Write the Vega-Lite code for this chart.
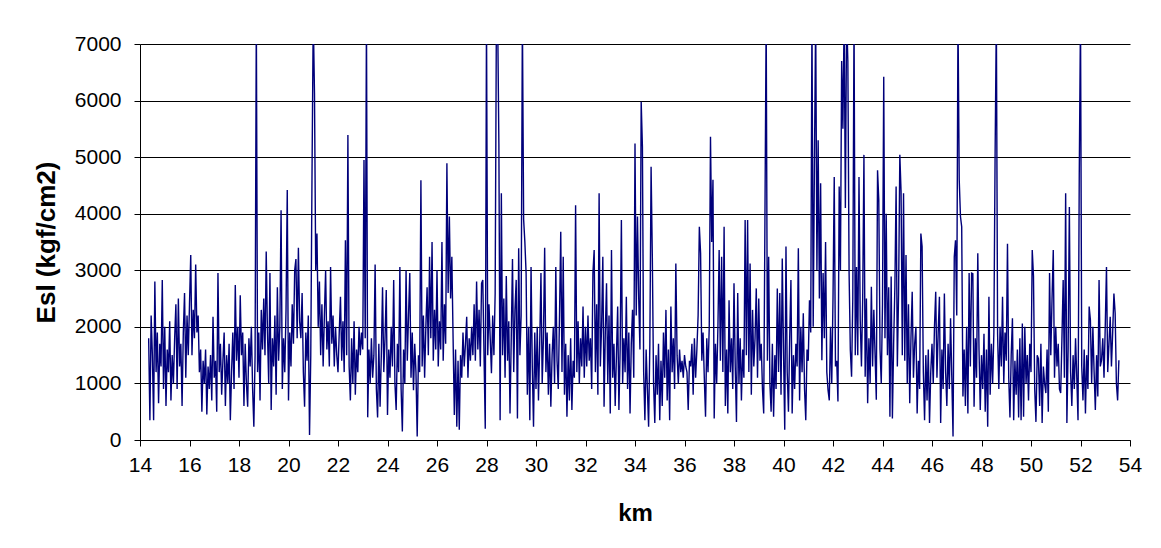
{
"$schema": "https://vega.github.io/schema/vega-lite/v6.json",
"width": 990,
"height": 396,
"autosize": "none",
"padding": {"left": 140, "top": 44, "right": 31, "bottom": 108},
"background": "white",
"config": {"view": {"stroke": null}, "font": "Liberation Sans"},
"data": {"values": [
{"km":14.35,"esl":1800},{"km":14.40,"esl":350},{"km":14.45,"esl":2200},{"km":14.50,"esl":1500},{"km":14.55,"esl":350},{"km":14.60,"esl":2800},{"km":14.65,"esl":1200},{"km":14.70,"esl":1900},{"km":14.75,"esl":650},{"km":14.80,"esl":1700},{"km":14.85,"esl":1300},{"km":14.90,"esl":2830},{"km":14.95,"esl":900},
{"km":15.00,"esl":2000},{"km":15.05,"esl":600},{"km":15.10,"esl":1600},{"km":15.15,"esl":1200},{"km":15.20,"esl":2100},{"km":15.25,"esl":700},{"km":15.30,"esl":1500},{"km":15.35,"esl":1000},{"km":15.40,"esl":1800},{"km":15.45,"esl":2400},{"km":15.50,"esl":900},{"km":15.55,"esl":2500},{"km":15.60,"esl":1300},{"km":15.65,"esl":1700},{"km":15.70,"esl":600},{"km":15.75,"esl":1900},{"km":15.80,"esl":2600},{"km":15.85,"esl":1100},{"km":15.90,"esl":2200},{"km":15.95,"esl":1500},
{"km":16.00,"esl":2400},{"km":16.05,"esl":3270},{"km":16.10,"esl":1500},{"km":16.15,"esl":2300},{"km":16.20,"esl":1800},{"km":16.25,"esl":3100},{"km":16.30,"esl":1900},{"km":16.35,"esl":2200},{"km":16.40,"esl":1200},{"km":16.45,"esl":1600},{"km":16.50,"esl":500},{"km":16.55,"esl":1400},{"km":16.60,"esl":1000},{"km":16.65,"esl":1600},{"km":16.70,"esl":450},{"km":16.75,"esl":1300},{"km":16.80,"esl":900},{"km":16.85,"esl":1500},{"km":16.90,"esl":700},{"km":16.95,"esl":2180},
{"km":17.00,"esl":1100},{"km":17.05,"esl":1400},{"km":17.10,"esl":500},{"km":17.15,"esl":2950},{"km":17.20,"esl":1200},{"km":17.25,"esl":1700},{"km":17.30,"esl":800},{"km":17.35,"esl":1400},{"km":17.40,"esl":1900},{"km":17.45,"esl":600},{"km":17.50,"esl":1500},{"km":17.55,"esl":1000},{"km":17.60,"esl":1700},{"km":17.65,"esl":350},{"km":17.70,"esl":1200},{"km":17.75,"esl":1900},{"km":17.80,"esl":900},{"km":17.85,"esl":2740},{"km":17.90,"esl":1400},{"km":17.95,"esl":2000},
{"km":18.00,"esl":1100},{"km":18.05,"esl":2560},{"km":18.10,"esl":1500},{"km":18.15,"esl":1900},{"km":18.20,"esl":600},{"km":18.25,"esl":1700},{"km":18.30,"esl":1000},{"km":18.35,"esl":590},{"km":18.40,"esl":1800},{"km":18.45,"esl":1300},{"km":18.50,"esl":2000},{"km":18.55,"esl":900},{"km":18.60,"esl":235},{"km":18.65,"esl":1500},{"km":18.70,"esl":7500},{"km":18.75,"esl":1200},{"km":18.80,"esl":1900},{"km":18.85,"esl":700},{"km":18.90,"esl":2300},{"km":18.95,"esl":1600},
{"km":19.00,"esl":2500},{"km":19.05,"esl":1500},{"km":19.10,"esl":3330},{"km":19.15,"esl":1900},{"km":19.20,"esl":1000},{"km":19.25,"esl":2950},{"km":19.30,"esl":530},{"km":19.35,"esl":1800},{"km":19.40,"esl":1300},{"km":19.45,"esl":2200},{"km":19.50,"esl":800},{"km":19.55,"esl":2700},{"km":19.60,"esl":1400},{"km":19.65,"esl":2000},{"km":19.70,"esl":4060},{"km":19.75,"esl":900},{"km":19.80,"esl":1800},{"km":19.85,"esl":1200},{"km":19.90,"esl":2300},{"km":19.95,"esl":4420},
{"km":20.00,"esl":700},{"km":20.05,"esl":1900},{"km":20.10,"esl":1300},{"km":20.15,"esl":2400},{"km":20.20,"esl":1700},{"km":20.25,"esl":3000},{"km":20.30,"esl":3200},{"km":20.35,"esl":1800},{"km":20.40,"esl":3400},{"km":20.45,"esl":2100},{"km":20.50,"esl":1800},{"km":20.55,"esl":2600},{"km":20.60,"esl":1200},{"km":20.65,"esl":590},{"km":20.70,"esl":1900},{"km":20.75,"esl":1400},{"km":20.80,"esl":2200},{"km":20.85,"esl":90},{"km":20.90,"esl":1500},{"km":20.95,"esl":4700},
{"km":21.00,"esl":7500},{"km":21.05,"esl":6130},{"km":21.10,"esl":3000},{"km":21.15,"esl":3650},{"km":21.20,"esl":2000},{"km":21.25,"esl":2800},{"km":21.30,"esl":1500},{"km":21.35,"esl":2400},{"km":21.40,"esl":1300},{"km":21.45,"esl":2200},{"km":21.50,"esl":3000},{"km":21.55,"esl":1600},{"km":21.60,"esl":2100},{"km":21.65,"esl":1300},{"km":21.70,"esl":3060},{"km":21.75,"esl":1700},{"km":21.80,"esl":2200},{"km":21.85,"esl":1300},{"km":21.90,"esl":2000},{"km":21.95,"esl":1500},
{"km":22.00,"esl":1200},{"km":22.05,"esl":1900},{"km":22.10,"esl":2530},{"km":22.15,"esl":1400},{"km":22.20,"esl":2100},{"km":22.25,"esl":1200},{"km":22.30,"esl":3530},{"km":22.35,"esl":1500},{"km":22.40,"esl":5390},{"km":22.45,"esl":1300},{"km":22.50,"esl":700},{"km":22.55,"esl":1800},{"km":22.60,"esl":1000},{"km":22.65,"esl":2100},{"km":22.70,"esl":800},{"km":22.75,"esl":1600},{"km":22.80,"esl":1200},{"km":22.85,"esl":2000},{"km":22.90,"esl":1500},{"km":22.95,"esl":1900},
{"km":23.00,"esl":1600},{"km":23.05,"esl":4950},{"km":23.10,"esl":1800},{"km":23.15,"esl":7500},{"km":23.20,"esl":400},{"km":23.25,"esl":1600},{"km":23.30,"esl":1000},{"km":23.35,"esl":1800},{"km":23.40,"esl":1100},{"km":23.45,"esl":1500},{"km":23.50,"esl":3100},{"km":23.55,"esl":900},{"km":23.60,"esl":400},{"km":23.65,"esl":1700},{"km":23.70,"esl":590},{"km":23.75,"esl":1500},{"km":23.80,"esl":2700},{"km":23.85,"esl":1200},{"km":23.90,"esl":1800},{"km":23.95,"esl":2650},
{"km":24.00,"esl":440},{"km":24.05,"esl":1600},{"km":24.10,"esl":1100},{"km":24.15,"esl":2000},{"km":24.20,"esl":1300},{"km":24.25,"esl":2830},{"km":24.30,"esl":1000},{"km":24.35,"esl":530},{"km":24.40,"esl":1700},{"km":24.45,"esl":1200},{"km":24.50,"esl":3060},{"km":24.55,"esl":900},{"km":24.60,"esl":150},{"km":24.65,"esl":1600},{"km":24.70,"esl":1000},{"km":24.75,"esl":3000},{"km":24.80,"esl":1400},{"km":24.85,"esl":2200},{"km":24.90,"esl":2950},{"km":24.95,"esl":1100},
{"km":25.00,"esl":1900},{"km":25.05,"esl":880},{"km":25.10,"esl":1700},{"km":25.15,"esl":1200},{"km":25.20,"esl":60},{"km":25.25,"esl":1500},{"km":25.30,"esl":1200},{"km":25.35,"esl":4590},{"km":25.40,"esl":1300},{"km":25.45,"esl":2200},{"km":25.50,"esl":1100},{"km":25.55,"esl":2000},{"km":25.60,"esl":2700},{"km":25.65,"esl":1500},{"km":25.70,"esl":3240},{"km":25.75,"esl":1800},{"km":25.80,"esl":3500},{"km":25.85,"esl":1400},{"km":25.90,"esl":2300},{"km":25.95,"esl":1600},
{"km":26.00,"esl":3000},{"km":26.05,"esl":1300},{"km":26.10,"esl":2100},{"km":26.15,"esl":1600},{"km":26.20,"esl":3500},{"km":26.25,"esl":1400},{"km":26.30,"esl":2400},{"km":26.35,"esl":1700},{"km":26.40,"esl":4890},{"km":26.45,"esl":2600},{"km":26.50,"esl":3950},{"km":26.55,"esl":2500},{"km":26.60,"esl":3240},{"km":26.65,"esl":1800},{"km":26.70,"esl":440},{"km":26.75,"esl":1600},{"km":26.80,"esl":235},{"km":26.85,"esl":1400},{"km":26.90,"esl":180},{"km":26.95,"esl":1500},
{"km":27.00,"esl":1100},{"km":27.05,"esl":1900},{"km":27.10,"esl":1300},{"km":27.15,"esl":1700},{"km":27.20,"esl":2180},{"km":27.25,"esl":1100},{"km":27.30,"esl":1800},{"km":27.35,"esl":1400},{"km":27.40,"esl":2000},{"km":27.45,"esl":1500},{"km":27.50,"esl":2400},{"km":27.55,"esl":1400},{"km":27.60,"esl":2800},{"km":27.65,"esl":1600},{"km":27.70,"esl":2300},{"km":27.75,"esl":1300},{"km":27.80,"esl":2770},{"km":27.85,"esl":2830},{"km":27.90,"esl":1500},{"km":27.95,"esl":200},
{"km":28.00,"esl":7500},{"km":28.05,"esl":1500},{"km":28.10,"esl":2400},{"km":28.15,"esl":1800},{"km":28.20,"esl":1180},{"km":28.25,"esl":2200},{"km":28.30,"esl":1500},{"km":28.35,"esl":2600},{"km":28.40,"esl":7500},{"km":28.45,"esl":7500},{"km":28.50,"esl":5240},{"km":28.55,"esl":350},{"km":28.60,"esl":4360},{"km":28.65,"esl":1500},{"km":28.70,"esl":2500},{"km":28.75,"esl":1100},{"km":28.80,"esl":2900},{"km":28.85,"esl":1400},{"km":28.90,"esl":2100},{"km":28.95,"esl":470},
{"km":29.00,"esl":1800},{"km":29.05,"esl":3200},{"km":29.10,"esl":1200},{"km":29.15,"esl":2300},{"km":29.20,"esl":2830},{"km":29.25,"esl":380},{"km":29.30,"esl":3390},{"km":29.35,"esl":1500},{"km":29.40,"esl":2200},{"km":29.45,"esl":7500},{"km":29.50,"esl":3900},{"km":29.55,"esl":3500},{"km":29.60,"esl":2950},{"km":29.65,"esl":800},{"km":29.70,"esl":2000},{"km":29.75,"esl":350},{"km":29.80,"esl":3060},{"km":29.85,"esl":1300},{"km":29.90,"esl":235},{"km":29.95,"esl":1900},
{"km":30.00,"esl":900},{"km":30.05,"esl":2000},{"km":30.10,"esl":700},{"km":30.15,"esl":1700},{"km":30.20,"esl":2950},{"km":30.25,"esl":1000},{"km":30.30,"esl":1800},{"km":30.35,"esl":3400},{"km":30.40,"esl":1200},{"km":30.45,"esl":1900},{"km":30.50,"esl":800},{"km":30.55,"esl":1700},{"km":30.60,"esl":590},{"km":30.65,"esl":1500},{"km":30.70,"esl":2000},{"km":30.75,"esl":1000},{"km":30.80,"esl":3060},{"km":30.85,"esl":1400},{"km":30.90,"esl":900},{"km":30.95,"esl":2200},
{"km":31.00,"esl":3680},{"km":31.05,"esl":1200},{"km":31.10,"esl":3240},{"km":31.15,"esl":800},{"km":31.20,"esl":1700},{"km":31.25,"esl":410},{"km":31.30,"esl":1500},{"km":31.35,"esl":700},{"km":31.40,"esl":1800},{"km":31.45,"esl":530},{"km":31.50,"esl":1400},{"km":31.55,"esl":1100},{"km":31.60,"esl":4150},{"km":31.65,"esl":1200},{"km":31.70,"esl":2100},{"km":31.75,"esl":1000},{"km":31.80,"esl":1800},{"km":31.85,"esl":1300},{"km":31.90,"esl":2360},{"km":31.95,"esl":1100},
{"km":32.00,"esl":2000},{"km":32.05,"esl":1300},{"km":32.10,"esl":2200},{"km":32.15,"esl":1400},{"km":32.20,"esl":1800},{"km":32.25,"esl":900},{"km":32.30,"esl":2950},{"km":32.35,"esl":3360},{"km":32.40,"esl":1200},{"km":32.45,"esl":2400},{"km":32.50,"esl":800},{"km":32.55,"esl":4360},{"km":32.60,"esl":1300},{"km":32.65,"esl":2000},{"km":32.70,"esl":3240},{"km":32.75,"esl":590},{"km":32.80,"esl":1900},{"km":32.85,"esl":2770},{"km":32.90,"esl":1000},{"km":32.95,"esl":2200},
{"km":33.00,"esl":470},{"km":33.05,"esl":3360},{"km":33.10,"esl":1100},{"km":33.15,"esl":1700},{"km":33.20,"esl":600},{"km":33.25,"esl":1500},{"km":33.30,"esl":2360},{"km":33.35,"esl":530},{"km":33.40,"esl":1600},{"km":33.45,"esl":3890},{"km":33.50,"esl":1000},{"km":33.55,"esl":1800},{"km":33.60,"esl":1200},{"km":33.65,"esl":2530},{"km":33.70,"esl":900},{"km":33.75,"esl":1900},{"km":33.80,"esl":470},{"km":33.85,"esl":1700},{"km":33.90,"esl":2300},{"km":33.95,"esl":1100},
{"km":34.00,"esl":5240},{"km":34.05,"esl":2200},{"km":34.10,"esl":3950},{"km":34.15,"esl":2500},{"km":34.20,"esl":1600},{"km":34.25,"esl":5980},{"km":34.30,"esl":5180},{"km":34.35,"esl":1200},{"km":34.40,"esl":350},{"km":34.45,"esl":1600},{"km":34.50,"esl":900},{"km":34.55,"esl":235},{"km":34.60,"esl":1700},{"km":34.65,"esl":4830},{"km":34.70,"esl":3240},{"km":34.75,"esl":1000},{"km":34.80,"esl":300},{"km":34.85,"esl":1500},{"km":34.90,"esl":800},{"km":34.95,"esl":1700},
{"km":35.00,"esl":350},{"km":35.05,"esl":1400},{"km":35.10,"esl":600},{"km":35.15,"esl":1900},{"km":35.20,"esl":1100},{"km":35.25,"esl":2300},{"km":35.30,"esl":700},{"km":35.35,"esl":1600},{"km":35.40,"esl":350},{"km":35.45,"esl":2360},{"km":35.50,"esl":1200},{"km":35.55,"esl":1800},{"km":35.60,"esl":900},{"km":35.65,"esl":3120},{"km":35.70,"esl":1500},{"km":35.75,"esl":1000},{"km":35.80,"esl":1600},{"km":35.85,"esl":1200},{"km":35.90,"esl":1400},{"km":35.95,"esl":1100},
{"km":36.00,"esl":1500},{"km":36.05,"esl":1300},{"km":36.10,"esl":1200},{"km":36.15,"esl":530},{"km":36.20,"esl":1400},{"km":36.25,"esl":1300},{"km":36.30,"esl":1700},{"km":36.35,"esl":800},{"km":36.40,"esl":1800},{"km":36.45,"esl":1100},{"km":36.50,"esl":1600},{"km":36.55,"esl":2200},{"km":36.60,"esl":3770},{"km":36.65,"esl":3300},{"km":36.70,"esl":1400},{"km":36.75,"esl":1900},{"km":36.80,"esl":1100},{"km":36.85,"esl":410},{"km":36.90,"esl":1800},{"km":36.95,"esl":1200},
{"km":37.00,"esl":2000},{"km":37.05,"esl":5360},{"km":37.10,"esl":3500},{"km":37.15,"esl":4600},{"km":37.20,"esl":380},{"km":37.25,"esl":1700},{"km":37.30,"esl":1000},{"km":37.35,"esl":2000},{"km":37.40,"esl":3360},{"km":37.45,"esl":1400},{"km":37.50,"esl":3240},{"km":37.55,"esl":1200},{"km":37.60,"esl":3770},{"km":37.65,"esl":600},{"km":37.70,"esl":1600},{"km":37.75,"esl":470},{"km":37.80,"esl":2470},{"km":37.85,"esl":1200},{"km":37.90,"esl":1800},{"km":37.95,"esl":900},
{"km":38.00,"esl":2770},{"km":38.05,"esl":1300},{"km":38.10,"esl":320},{"km":38.15,"esl":2600},{"km":38.20,"esl":1000},{"km":38.25,"esl":1800},{"km":38.30,"esl":700},{"km":38.35,"esl":1600},{"km":38.40,"esl":1100},{"km":38.45,"esl":3890},{"km":38.50,"esl":1500},{"km":38.55,"esl":3890},{"km":38.60,"esl":1200},{"km":38.65,"esl":3120},{"km":38.70,"esl":800},{"km":38.75,"esl":2300},{"km":38.80,"esl":1300},{"km":38.85,"esl":1800},{"km":38.90,"esl":2680},{"km":38.95,"esl":1100},
{"km":39.00,"esl":2500},{"km":39.05,"esl":1400},{"km":39.10,"esl":1700},{"km":39.15,"esl":900},{"km":39.20,"esl":470},{"km":39.25,"esl":3890},{"km":39.30,"esl":7500},{"km":39.35,"esl":1400},{"km":39.40,"esl":3240},{"km":39.45,"esl":1000},{"km":39.50,"esl":500},{"km":39.55,"esl":1700},{"km":39.60,"esl":410},{"km":39.65,"esl":1500},{"km":39.70,"esl":900},{"km":39.75,"esl":2680},{"km":39.80,"esl":1200},{"km":39.85,"esl":2600},{"km":39.90,"esl":800},{"km":39.95,"esl":3210},
{"km":40.00,"esl":1600},{"km":40.05,"esl":180},{"km":40.10,"esl":3420},{"km":40.15,"esl":1200},{"km":40.20,"esl":500},{"km":40.25,"esl":1800},{"km":40.30,"esl":2830},{"km":40.35,"esl":470},{"km":40.40,"esl":1500},{"km":40.45,"esl":900},{"km":40.50,"esl":1700},{"km":40.55,"esl":1300},{"km":40.60,"esl":3390},{"km":40.65,"esl":700},{"km":40.70,"esl":2000},{"km":40.75,"esl":1200},{"km":40.80,"esl":2240},{"km":40.85,"esl":900},{"km":40.90,"esl":350},{"km":40.95,"esl":1600},
{"km":41.00,"esl":1400},{"km":41.05,"esl":2470},{"km":41.10,"esl":1900},{"km":41.15,"esl":7500},{"km":41.20,"esl":2000},{"km":41.25,"esl":4890},{"km":41.30,"esl":7500},{"km":41.35,"esl":3000},{"km":41.40,"esl":5300},{"km":41.45,"esl":2500},{"km":41.50,"esl":4540},{"km":41.55,"esl":1410},{"km":41.60,"esl":2950},{"km":41.65,"esl":1800},{"km":41.70,"esl":3500},{"km":41.75,"esl":1200},{"km":41.80,"esl":880},{"km":41.85,"esl":700},{"km":41.90,"esl":2000},{"km":41.95,"esl":1000},
{"km":42.00,"esl":2500},{"km":42.05,"esl":4650},{"km":42.10,"esl":1300},{"km":42.15,"esl":1400},{"km":42.20,"esl":680},{"km":42.25,"esl":4480},{"km":42.30,"esl":3000},{"km":42.35,"esl":6700},{"km":42.40,"esl":5500},{"km":42.45,"esl":7500},{"km":42.50,"esl":4100},{"km":42.55,"esl":7500},{"km":42.60,"esl":6700},{"km":42.65,"esl":2950},{"km":42.70,"esl":1590},{"km":42.75,"esl":1120},{"km":42.80,"esl":2500},{"km":42.85,"esl":7500},{"km":42.90,"esl":1500},{"km":42.95,"esl":3060},
{"km":43.00,"esl":1500},{"km":43.05,"esl":4650},{"km":43.10,"esl":2120},{"km":43.15,"esl":1300},{"km":43.20,"esl":2500},{"km":43.25,"esl":5040},{"km":43.30,"esl":1120},{"km":43.35,"esl":2500},{"km":43.40,"esl":650},{"km":43.45,"esl":1800},{"km":43.50,"esl":1000},{"km":43.55,"esl":2710},{"km":43.60,"esl":1300},{"km":43.65,"esl":2300},{"km":43.70,"esl":1500},{"km":43.75,"esl":710},{"km":43.80,"esl":4770},{"km":43.85,"esl":4240},{"km":43.90,"esl":1600},{"km":43.95,"esl":1000},
{"km":44.00,"esl":2400},{"km":44.05,"esl":6420},{"km":44.10,"esl":1800},{"km":44.15,"esl":4000},{"km":44.20,"esl":1500},{"km":44.25,"esl":2700},{"km":44.30,"esl":410},{"km":44.35,"esl":2890},{"km":44.40,"esl":380},{"km":44.45,"esl":1700},{"km":44.50,"esl":2710},{"km":44.55,"esl":4480},{"km":44.60,"esl":1300},{"km":44.65,"esl":2600},{"km":44.70,"esl":5040},{"km":44.75,"esl":4390},{"km":44.80,"esl":1500},{"km":44.85,"esl":4360},{"km":44.90,"esl":1400},{"km":44.95,"esl":3270},
{"km":45.00,"esl":1000},{"km":45.05,"esl":2400},{"km":45.10,"esl":650},{"km":45.15,"esl":1800},{"km":45.20,"esl":2620},{"km":45.25,"esl":1100},{"km":45.30,"esl":1700},{"km":45.35,"esl":2000},{"km":45.40,"esl":470},{"km":45.45,"esl":1400},{"km":45.50,"esl":900},{"km":45.55,"esl":3650},{"km":45.60,"esl":3420},{"km":45.65,"esl":1200},{"km":45.70,"esl":350},{"km":45.75,"esl":1500},{"km":45.80,"esl":700},{"km":45.85,"esl":1600},{"km":45.90,"esl":300},{"km":45.95,"esl":1200},
{"km":46.00,"esl":1700},{"km":46.05,"esl":1000},{"km":46.10,"esl":2000},{"km":46.15,"esl":2620},{"km":46.20,"esl":1100},{"km":46.25,"esl":1900},{"km":46.30,"esl":2530},{"km":46.35,"esl":300},{"km":46.40,"esl":1600},{"km":46.45,"esl":900},{"km":46.50,"esl":2590},{"km":46.55,"esl":1200},{"km":46.60,"esl":600},{"km":46.65,"esl":1700},{"km":46.70,"esl":900},{"km":46.75,"esl":2150},{"km":46.80,"esl":1100},{"km":46.85,"esl":60},{"km":46.90,"esl":3240},{"km":46.95,"esl":3530},
{"km":47.00,"esl":2200},{"km":47.05,"esl":7500},{"km":47.10,"esl":4600},{"km":47.15,"esl":3950},{"km":47.20,"esl":3770},{"km":47.25,"esl":770},{"km":47.30,"esl":1600},{"km":47.35,"esl":600},{"km":47.40,"esl":2000},{"km":47.45,"esl":470},{"km":47.50,"esl":2950},{"km":47.55,"esl":1300},{"km":47.60,"esl":2950},{"km":47.65,"esl":2940},{"km":47.70,"esl":590},{"km":47.75,"esl":1800},{"km":47.80,"esl":1100},{"km":47.85,"esl":3300},{"km":47.90,"esl":1590},{"km":47.95,"esl":530},
{"km":48.00,"esl":1500},{"km":48.05,"esl":900},{"km":48.10,"esl":1880},{"km":48.15,"esl":500},{"km":48.20,"esl":1600},{"km":48.25,"esl":235},{"km":48.30,"esl":2530},{"km":48.35,"esl":800},{"km":48.40,"esl":1700},{"km":48.45,"esl":1000},{"km":48.50,"esl":1900},{"km":48.55,"esl":5070},{"km":48.60,"esl":7500},{"km":48.65,"esl":1880},{"km":48.70,"esl":900},{"km":48.75,"esl":2000},{"km":48.80,"esl":1300},{"km":48.85,"esl":2530},{"km":48.90,"esl":1000},{"km":48.95,"esl":1900},
{"km":49.00,"esl":1400},{"km":49.05,"esl":3470},{"km":49.10,"esl":1100},{"km":49.15,"esl":400},{"km":49.20,"esl":1500},{"km":49.25,"esl":2150},{"km":49.30,"esl":350},{"km":49.35,"esl":1400},{"km":49.40,"esl":800},{"km":49.45,"esl":1600},{"km":49.50,"esl":400},{"km":49.55,"esl":1800},{"km":49.60,"esl":350},{"km":49.65,"esl":2060},{"km":49.70,"esl":410},{"km":49.75,"esl":2000},{"km":49.80,"esl":1000},{"km":49.85,"esl":1500},{"km":49.90,"esl":700},{"km":49.95,"esl":1700},
{"km":50.00,"esl":1200},{"km":50.05,"esl":3360},{"km":50.10,"esl":2900},{"km":50.15,"esl":900},{"km":50.20,"esl":320},{"km":50.25,"esl":1500},{"km":50.30,"esl":1440},{"km":50.35,"esl":600},{"km":50.40,"esl":1700},{"km":50.45,"esl":300},{"km":50.50,"esl":1300},{"km":50.55,"esl":1000},{"km":50.60,"esl":830},{"km":50.65,"esl":1600},{"km":50.70,"esl":500},{"km":50.75,"esl":2950},{"km":50.80,"esl":1500},{"km":50.85,"esl":2500},{"km":50.90,"esl":3360},{"km":50.95,"esl":1100},
{"km":51.00,"esl":2000},{"km":51.05,"esl":1300},{"km":51.10,"esl":1700},{"km":51.15,"esl":900},{"km":51.20,"esl":830},{"km":51.25,"esl":1800},{"km":51.30,"esl":2830},{"km":51.35,"esl":1100},{"km":51.40,"esl":4360},{"km":51.45,"esl":300},{"km":51.50,"esl":1600},{"km":51.55,"esl":4120},{"km":51.60,"esl":1200},{"km":51.65,"esl":600},{"km":51.70,"esl":1500},{"km":51.75,"esl":900},{"km":51.80,"esl":1800},{"km":51.85,"esl":1100},{"km":51.90,"esl":350},{"km":51.95,"esl":4710},
{"km":52.00,"esl":7500},{"km":52.05,"esl":1300},{"km":52.10,"esl":700},{"km":52.15,"esl":1600},{"km":52.20,"esl":470},{"km":52.25,"esl":1500},{"km":52.30,"esl":900},{"km":52.35,"esl":2360},{"km":52.40,"esl":2120},{"km":52.45,"esl":1000},{"km":52.50,"esl":2000},{"km":52.55,"esl":1200},{"km":52.60,"esl":530},{"km":52.65,"esl":1500},{"km":52.70,"esl":770},{"km":52.75,"esl":2830},{"km":52.80,"esl":1300},{"km":52.85,"esl":1410},{"km":52.90,"esl":1800},{"km":52.95,"esl":1100},
{"km":53.00,"esl":2000},{"km":53.05,"esl":3060},{"km":53.10,"esl":1200},{"km":53.15,"esl":1700},{"km":53.20,"esl":2180},{"km":53.25,"esl":1300},{"km":53.30,"esl":1900},{"km":53.35,"esl":2590},{"km":53.40,"esl":2240},{"km":53.45,"esl":1000},{"km":53.50,"esl":700},{"km":53.55,"esl":1410}
]},
"mark": {"type": "line", "color": "#00007a", "strokeWidth": 1.4, "clip": true},
"encoding": {
"x": {"field": "km", "type": "quantitative", "scale": {"domain": [14, 54], "nice": false, "zero": false},
"axis": {"values": [14,16,18,20,22,24,26,28,30,32,34,36,38,40,42,44,46,48,50,52,54], "format": "d", "title": "km", "grid": false, "domainColor": "black", "tickColor": "black", "tickSize": 6, "labelFontSize": 21, "labelColor": "black", "labelPadding": 8, "labelFont": "Liberation Sans", "titleFont": "Liberation Sans", "titleFontSize": 24, "titleFontWeight": "bold", "titleColor": "black", "titlePadding": 26, "labelFlush": false}},
"y": {"field": "esl", "type": "quantitative", "scale": {"domain": [0, 7000], "nice": false},
"axis": {"values": [0,1000,2000,3000,4000,5000,6000,7000], "format": "d", "title": "Esl (kgf/cm2)", "grid": true, "gridColor": "black", "gridOpacity": 1, "gridWidth": 1, "domainColor": "black", "tickColor": "black", "tickSize": 6, "labelFontSize": 21, "labelColor": "black", "labelPadding": 13, "labelFont": "Liberation Sans", "titleFont": "Liberation Sans", "titleFontSize": 26, "titleFontWeight": "bold", "titleColor": "black", "titlePadding": 15, "labelFlush": false}}
}
}
